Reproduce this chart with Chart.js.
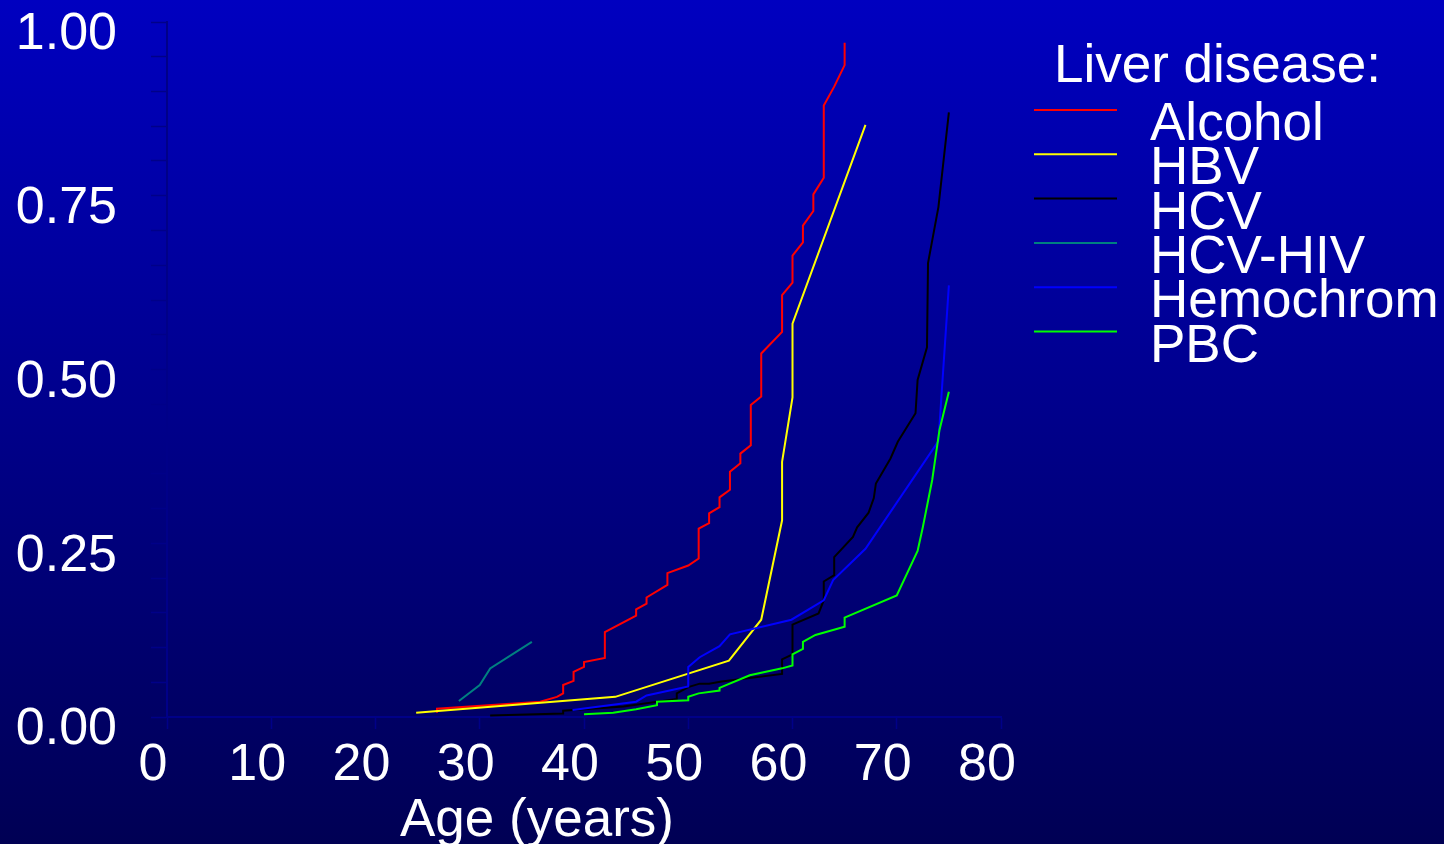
<!DOCTYPE html>
<html>
<head>
<meta charset="utf-8">
<title>Liver disease</title>
<script src="https://cdn.jsdelivr.net/npm/chart.js@4.4.1/dist/chart.umd.min.js"></script>
<style>
    html, body { margin: 0; padding: 0; background: #00005a; }
    canvas { display: block; }
</style>
</head>
<body>
<canvas id="chart" width="1444" height="844"></canvas>
<script>
// Series: age (years) and cumulative risk
const alcoholAge = [25.9, 25.9, 35.8, 37.4, 38, 38, 39, 39, 40, 40, 42, 42, 45, 45, 46, 46, 48, 48, 50, 51, 51, 52, 52, 53, 53, 54, 54, 55, 55, 56, 56, 57, 57, 59, 59, 60, 60, 61, 61, 62, 62, 63, 63, 64, 65, 65];
const alcoholRisk = [0.006, 0.012, 0.022, 0.029, 0.034, 0.046, 0.052, 0.065, 0.072, 0.079, 0.085, 0.122, 0.146, 0.155, 0.163, 0.172, 0.190, 0.207, 0.218, 0.228, 0.271, 0.279, 0.293, 0.302, 0.316, 0.327, 0.353, 0.365, 0.379, 0.391, 0.449, 0.461, 0.523, 0.554, 0.607, 0.625, 0.664, 0.683, 0.707, 0.728, 0.752, 0.776, 0.880, 0.907, 0.938, 0.970];

const hbvAge = [23.9, 43, 53.9, 57, 59, 59, 60, 60, 67];
const hbvRisk = [0.006, 0.029, 0.081, 0.140, 0.283, 0.367, 0.460, 0.566, 0.852];

const hcvAge = [31, 38, 38, 43.8, 48.9, 48.9, 50, 51.1, 52, 53.2, 55.9, 59, 59, 60, 60, 62.5, 63, 63, 64, 64, 65.8, 66.2, 67.3, 67.8, 68, 69.4, 70.1, 71.8, 72, 72.9, 73, 74, 75];
const hcvRisk = [0.002, 0.005, 0.009, 0.015, 0.026, 0.034, 0.043, 0.048, 0.048, 0.051, 0.056, 0.062, 0.083, 0.090, 0.133, 0.149, 0.168, 0.195, 0.204, 0.230, 0.259, 0.273, 0.294, 0.315, 0.336, 0.372, 0.396, 0.437, 0.485, 0.532, 0.653, 0.734, 0.870];

const hivAge = [28, 30, 31, 35];
const hivRisk = [0.023, 0.046, 0.070, 0.108];

const hemoAge = [38.9, 45, 46, 50, 50, 51.1, 53, 54, 59.9, 63, 63.9, 67, 74, 75];
const hemoRisk = [0.010, 0.022, 0.031, 0.044, 0.072, 0.086, 0.102, 0.119, 0.140, 0.168, 0.197, 0.242, 0.397, 0.621];

const pbcAge = [40, 42.8, 45, 47, 47, 50, 50, 51, 53, 53, 55.9, 59, 60, 60, 61, 61, 62.2, 65, 65, 70, 72, 72.5, 73.4, 74.1, 75];
const pbcRisk = [0.004, 0.006, 0.011, 0.017, 0.022, 0.024, 0.029, 0.034, 0.038, 0.042, 0.060, 0.070, 0.074, 0.090, 0.098, 0.108, 0.118, 0.130, 0.143, 0.175, 0.239, 0.273, 0.341, 0.413, 0.468];

const diseaseNames = ['Alcohol', 'HBV', 'HCV', 'HCV-HIV', 'Hemochrom', 'PBC'];
const diseaseColors = ['#ff0000', '#ffff00', '#000000', '#008080', '#0000ff', '#00ff00'];
const xTicks = [0, 10, 20, 30, 40, 50, 60, 70, 80];
const yTickLabels = ['0.00', '0.25', '0.50', '0.75', '1.00'];
const legendTitle = 'Liver disease:';
const xTitle = 'Age (years)';

const FONT = "'Liberation Sans', Arial, Helvetica, sans-serif";
const AXIS_COLOR = '#000088';

function toPoints(ages, risks) {
    return ages.map((a, i) => ({ x: a, y: risks[i] }));
}

const seriesPoints = [
    toPoints(alcoholAge, alcoholRisk),
    toPoints(hbvAge, hbvRisk),
    toPoints(hcvAge, hcvRisk),
    toPoints(hivAge, hivRisk),
    toPoints(hemoAge, hemoRisk),
    toPoints(pbcAge, pbcRisk)
];

// gradient background behind everything
const backgroundPlugin = {
    id: 'bgGradient',
    beforeDraw(chart) {
        const ctx = chart.ctx;
        const g = ctx.createLinearGradient(0, 0, 0, chart.height);
        g.addColorStop(0, '#0000c0');
        g.addColorStop(1, '#000054');
        ctx.save();
        ctx.fillStyle = g;
        ctx.fillRect(0, 0, chart.width, chart.height);
        ctx.restore();
    }
};

// legend + x axis title, laid out like the original plot
const textPlugin = {
    id: 'plotText',
    afterDraw(chart) {
        const ctx = chart.ctx;
        ctx.save();
        ctx.fillStyle = '#ffffff';
        ctx.font = '53px ' + FONT;
        ctx.textAlign = 'left';
        ctx.textBaseline = 'alphabetic';
        ctx.fillText(legendTitle, 1054, 82);

        chart.data.datasets.forEach((ds, i) => {
            const base = 140 + i * 44.3;
            ctx.strokeStyle = ds.borderColor;
            ctx.lineWidth = 2;
            ctx.beginPath();
            ctx.moveTo(1034, base - 30);
            ctx.lineTo(1117, base - 30);
            ctx.stroke();
            ctx.fillText(ds.label, 1150, base);
        });

        ctx.fillText(xTitle, 400, 836);
        ctx.restore();
    }
};

const ctx = document.getElementById('chart').getContext('2d');

new Chart(ctx, {
    type: 'scatter',
    data: {
        datasets: seriesPoints.map((pts, i) => ({
            label: diseaseNames[i],
            data: pts,
            showLine: true,
            borderColor: diseaseColors[i],
            backgroundColor: diseaseColors[i],
            borderWidth: 2,
            pointRadius: 0,
            tension: 0,
            order: diseaseNames.length - i
        }))
    },
    options: {
        responsive: false,
        animation: false,
        devicePixelRatio: 1,
        layout: {
            padding: { top: 22, right: 443, bottom: 0, left: 0 }
        },
        plugins: {
            legend: { display: false },
            tooltip: { enabled: false }
        },
        scales: {
            x: {
                type: 'linear',
                min: 0,
                max: 80,
                afterBuildTicks(scale) {
                    scale.ticks = xTicks.map(v => ({ value: v }));
                },
                ticks: {
                    color: '#ffffff',
                    font: { family: FONT, size: 52 },
                    padding: 5,
                    labelOffset: -14,
                    maxRotation: 0,
                    autoSkip: false
                },
                grid: {
                    drawOnChartArea: false,
                    drawTicks: true,
                    tickLength: 12,
                    tickColor: AXIS_COLOR,
                    tickWidth: 1.5
                },
                border: { color: AXIS_COLOR, width: 2 },
                afterFit(scale) {
                    scale.height = 127;
                    scale.paddingLeft = 0;
                    scale.paddingRight = 0;
                }
            },
            y: {
                type: 'linear',
                min: 0,
                max: 1,
                ticks: {
                    stepSize: 0.05,
                    color: '#ffffff',
                    font: { family: FONT, size: 52 },
                    padding: 34,
                    labelOffset: 13,
                    autoSkip: false,
                    callback: (v, i) => (i % 5 === 0 ? yTickLabels[i / 5] : '')
                },
                grid: {
                    drawOnChartArea: false,
                    drawTicks: true,
                    tickLength: 16,
                    tickColor: AXIS_COLOR,
                    tickWidth: 1.5
                },
                border: { color: AXIS_COLOR, width: 2 },
                afterFit(scale) {
                    scale.width = 167;
                    scale.paddingTop = 0;
                    scale.paddingBottom = 0;
                }
            }
        }
    },
    plugins: [backgroundPlugin, textPlugin]
});
</script>
</body>
</html>
